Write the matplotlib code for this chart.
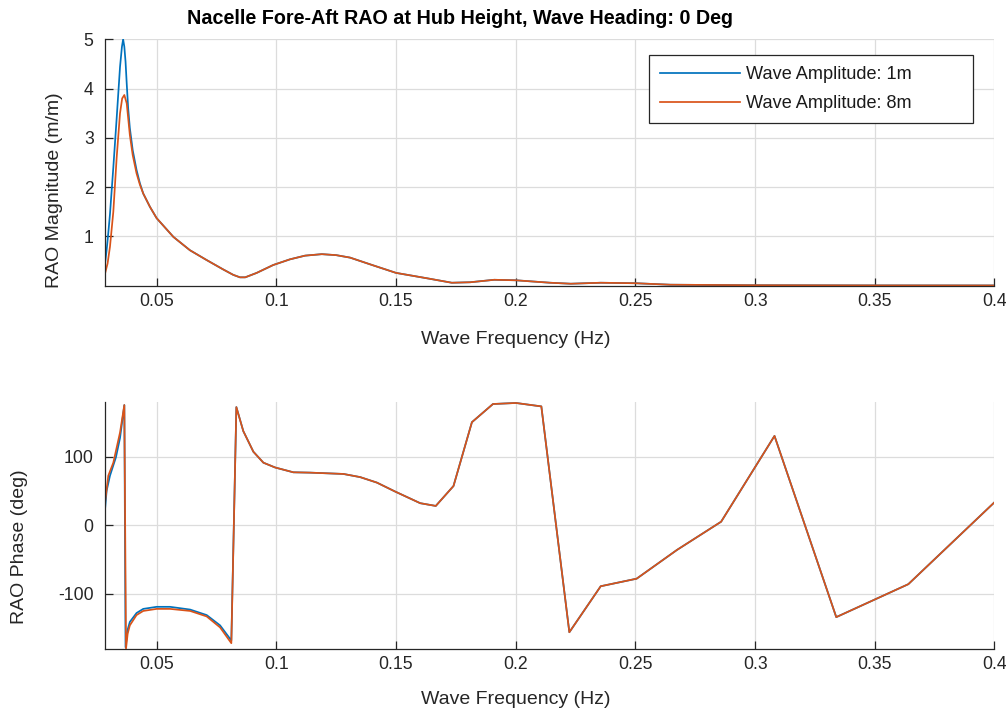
import matplotlib
matplotlib.use("Agg")
import matplotlib.pyplot as plt

plt.rcParams['font.family'] = ['Liberation Sans', 'DejaVu Sans']
plt.rcParams['axes.unicode_minus'] = False

# ---------------- data ----------------
mag_freq_1m = [0.0283, 0.0291, 0.0298, 0.0305, 0.0319, 0.0333, 0.0347, 0.0355, 0.0360,
               0.0365, 0.0370, 0.0375, 0.0381, 0.0388, 0.0400, 0.0416, 0.0430, 0.0444,
               0.0472, 0.0500, 0.0570, 0.0639, 0.0709, 0.0778, 0.0820, 0.0848, 0.0870,
               0.0918, 0.0987, 0.1057, 0.1120, 0.1190, 0.1250, 0.1308, 0.1400, 0.1500,
               0.1630, 0.1733, 0.1810, 0.1910, 0.2000, 0.2144, 0.2230, 0.2355, 0.2500,
               0.2645, 0.2980, 0.3500, 0.4000]
mag_1m = [0.39, 0.72, 1.07, 1.45, 2.4, 3.4, 4.44, 4.85, 5.0,
          4.85, 4.55, 4.1, 3.6, 3.2, 2.75, 2.35, 2.08, 1.87,
          1.60, 1.37, 0.99, 0.72, 0.52, 0.33, 0.22, 0.17, 0.17,
          0.26, 0.42, 0.535, 0.61, 0.64, 0.62, 0.57, 0.42, 0.26,
          0.15, 0.06, 0.07, 0.12, 0.11, 0.06, 0.04, 0.06, 0.05,
          0.02, 0.01, 0.006, 0.005]

mag_freq_8m = [0.0283, 0.0295, 0.0305, 0.0319, 0.0333, 0.0347, 0.0356, 0.0365, 0.0375,
               0.0388, 0.0400, 0.0416, 0.0430, 0.0444]
mag_8m_head = [0.22, 0.45, 0.79, 1.5, 2.6, 3.5, 3.8, 3.87, 3.7,
               3.06, 2.65, 2.28, 2.05, 1.87]

phase_freq_1m = [0.0283, 0.0291, 0.0305, 0.0330, 0.0347, 0.0365, 0.0370, 0.0379, 0.0388,
                 0.0416, 0.0444, 0.0500, 0.0556, 0.0640, 0.0709, 0.0765, 0.0812]
phase_1m_head = [17, 50, 72, 99, 127, 175, -178, -152, -141,
                 -128, -122, -119, -119, -123, -131, -146, -168]

phase_freq_8m = [0.0283, 0.0298, 0.0319, 0.0333, 0.0347, 0.0365, 0.0372, 0.0379, 0.0388,
                 0.0416, 0.0444, 0.0500, 0.0556, 0.0640, 0.0709, 0.0765, 0.0812]
phase_8m_head = [29, 72, 91, 113, 135, 175, -180, -158, -146,
                 -131, -125, -122, -122, -125, -133, -149, -172]

phase_freq_tail = [0.0833, 0.0862, 0.0904, 0.0946, 0.0995, 0.1071, 0.1141, 0.1280, 0.1350,
                   0.1420, 0.1496, 0.1601, 0.1666, 0.1740, 0.1817, 0.1905, 0.2001, 0.2107,
                   0.2224, 0.2355, 0.2505, 0.2674, 0.2858, 0.3081, 0.3339, 0.3640, 0.4005]
phase_tail = [172, 137, 107, 91, 84, 77, 76.5, 74.6, 70,
              62, 49, 32, 28, 57, 150, 176.5, 178, 173,
              -156, -89, -78, -36, 5, 130, -134, -86, 35]

series_labels = ['Wave Amplitude: 1m', 'Wave Amplitude: 8m']
x_ticks = [0.05, 0.1, 0.15, 0.2, 0.25, 0.3, 0.35, 0.4]
x_ticklabels = ['0.05', '0.1', '0.15', '0.2', '0.25', '0.3', '0.35', '0.4']
mag_yticks = [1, 2, 3, 4, 5]
phase_yticks = [-100, 0, 100]

title = 'Nacelle Fore-Aft RAO at Hub Height, Wave Heading: 0 Deg'
xlabel = 'Wave Frequency (Hz)'
ylabel_mag = 'RAO Magnitude (m/m)'
ylabel_phase = 'RAO Phase (deg)'

# assemble series
mag_freq_8m_full = mag_freq_8m + [f for f in mag_freq_1m if f > mag_freq_8m[-1]]
mag_8m = mag_8m_head + [v for f, v in zip(mag_freq_1m, mag_1m) if f > mag_freq_8m[-1]]
phase_f1 = phase_freq_1m + phase_freq_tail
phase_v1 = phase_1m_head + phase_tail
phase_f8 = phase_freq_8m + phase_freq_tail
phase_v8 = phase_8m_head + phase_tail

# ---------------- plot ----------------
BLUE = '#0072BD'
ORANGE = '#D95319'
AXC = '#262626'

fig = plt.figure(figsize=(10.06, 7.16), dpi=100)
W, H = 1006, 716

def add_ax(left, right, top, bottom):
    return fig.add_axes([left / W, 1 - bottom / H, (right - left) / W, (bottom - top) / H])

ax1 = add_ax(104.7, 994.5, 39.3, 285.7)
ax2 = add_ax(104.7, 994.5, 401.6, 648.7)

for ax in (ax1, ax2):
    ax.set_xlim(0.0283, 0.4)
    ax.set_xticks(x_ticks)
    ax.set_xticklabels(x_ticklabels)
    ax.grid(True, color='#dcdcdc', lw=0.9)
    ax.set_axisbelow(True)
    for s in ('top', 'right'):
        ax.spines[s].set_visible(False)
    for s in ('left', 'bottom'):
        ax.spines[s].set_color(AXC)
        ax.spines[s].set_linewidth(0.9)
    ax.tick_params(direction='in', length=6, width=0.9, color=AXC,
                   labelcolor=AXC, labelsize=12.7)
    ax.tick_params(axis='y', pad=8)
    ax.tick_params(axis='x', pad=5.5)

l1, = ax1.plot(mag_freq_1m, mag_1m, color=BLUE, lw=1.25)
l2, = ax1.plot(mag_freq_8m_full, mag_8m, color=ORANGE, lw=1.25)
ax1.set_ylim(0, 5)
ax1.set_yticks(mag_yticks)

ax2.plot(phase_f1, phase_v1, color=BLUE, lw=1.25)
ax2.plot(phase_f8, phase_v8, color=ORANGE, lw=1.25)
ax2.set_ylim(-180, 180)
ax2.set_yticks(phase_yticks)

# labels
for ax, yl, xy, yy in ((ax1, ylabel_mag, (-0.056, 0.388), -0.220),
                       (ax2, ylabel_phase, (-0.0955, 0.413), -0.2076)):
    ax.set_xlabel(xlabel, fontsize=14, color=AXC)
    ax.xaxis.label.set_va('center')
    ax.xaxis.set_label_coords(0.4614, yy)
    ax.set_ylabel(yl, fontsize=14, color=AXC)
    ax.yaxis.label.set_va('center')
    ax.yaxis.set_label_coords(*xy)

fig.text(460 / W, 1 - 18.5 / H, title, ha='center', va='center',
         fontsize=14.2, fontweight='bold', color='black')

# legend
x0 = (649.3 - 104.7) / 889.8
y1 = (285.7 - 55) / 246.4
y0 = (285.7 - 121.7) / 246.4
leg = ax1.legend([l1, l2], series_labels, loc='upper left',
                 bbox_to_anchor=(x0, y0, (973.3 - 649.3) / 889.8, y1 - y0),
                 mode='expand', fontsize=13.1, handlelength=4.4, handletextpad=0.33,
                 labelspacing=0.68, borderpad=0.6, borderaxespad=0.0,
                 fancybox=False, framealpha=1, edgecolor='#262626')
leg.get_frame().set_linewidth(0.9)
for t in leg.get_texts():
    t.set_color('#1a1a1a')

fig.savefig('out.png', dpi=100)
